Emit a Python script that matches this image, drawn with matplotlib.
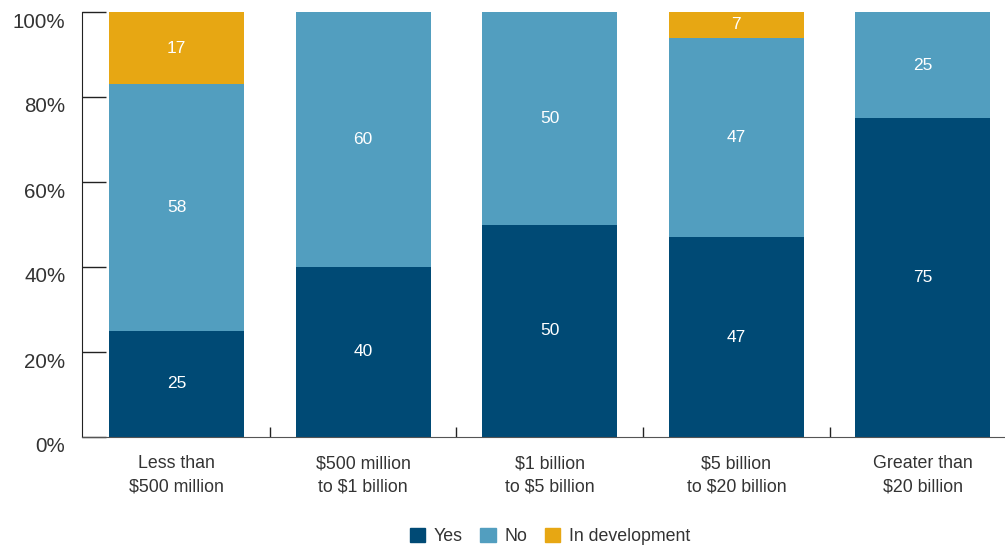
import matplotlib.pyplot as plt
from matplotlib.patches import Patch
from matplotlib.transforms import ScaledTranslation

plt.rcParams['font.family'] = ['Liberation Sans', 'DejaVu Sans']

categories = ["Less than\n$500 million", "$500 million\nto $1 billion",
              "$1 billion\nto $5 billion", "$5 billion\nto $20 billion",
              "Greater than\n$20 billion"]
yes = [25, 40, 50, 47, 75]
no = [58, 60, 50, 47, 25]
in_dev = [17, 0, 0, 7, 0]

series = [("Yes", yes, "#004a75"), ("No", no, "#529ebf"), ("In development", in_dev, "#e7a713")]
text_color = "#333333"

fig = plt.figure(figsize=(10.05, 5.47), dpi=100)
ax = fig.add_axes([82 / 1005, 110 / 547, 923 / 1005, 425 / 547])

x = list(range(len(categories)))
bottom = [0] * len(categories)
for name, vals, color in series:
    ax.bar(x, vals, width=0.724, bottom=bottom, color=color, label=name, zorder=2)
    for i, v in enumerate(vals):
        if v:
            mid = min(bottom[i] + v / 2, (bottom[i] + 100) / 2)
            ax.text(i, mid, str(v), ha="center", va="center", color="white", fontsize=12.5)
    bottom = [b + v for b, v in zip(bottom, vals)]

ax.set_xlim(-0.507, 4.44)
ax.set_ylim(0, 100)

for side in ["top", "right"]:
    ax.spines[side].set_visible(False)
ax.spines["left"].set_color("#222222")
ax.spines["bottom"].set_color("#555555")

ax.set_yticks(range(0, 101, 20))
ax.set_yticklabels(["%d%%" % v for v in range(0, 101, 20)], fontsize=14.8, color=text_color)
ax.tick_params(axis="y", direction="in", length=17, width=1, color="#222222", pad=12)
offset = ScaledTranslation(0, -8 / 100, fig.dpi_scale_trans)
for lab in ax.get_yticklabels():
    lab.set_transform(lab.get_transform() + offset)

# category labels, separator ticks between groups
ax.set_xticks(x)
ax.set_xticklabels(categories, fontsize=12.8, color=text_color, linespacing=1.5)
ax.tick_params(axis="x", length=0, pad=13)
ax.set_xticks([i + 0.5 for i in range(len(categories) - 1)], minor=True)
ax.tick_params(axis="x", which="minor", direction="in", length=7, width=1, color="#222222")

ax.legend(handles=[Patch(color=c, label=n) for n, _, c in series],
          loc="center", bbox_to_anchor=(0.507, -0.235), ncol=3, frameon=False,
          fontsize=12.8, handlelength=0.85, handleheight=0.85, handletextpad=0.5,
          columnspacing=1.0, labelcolor=text_color)

fig.savefig("out.png", dpi=100)
